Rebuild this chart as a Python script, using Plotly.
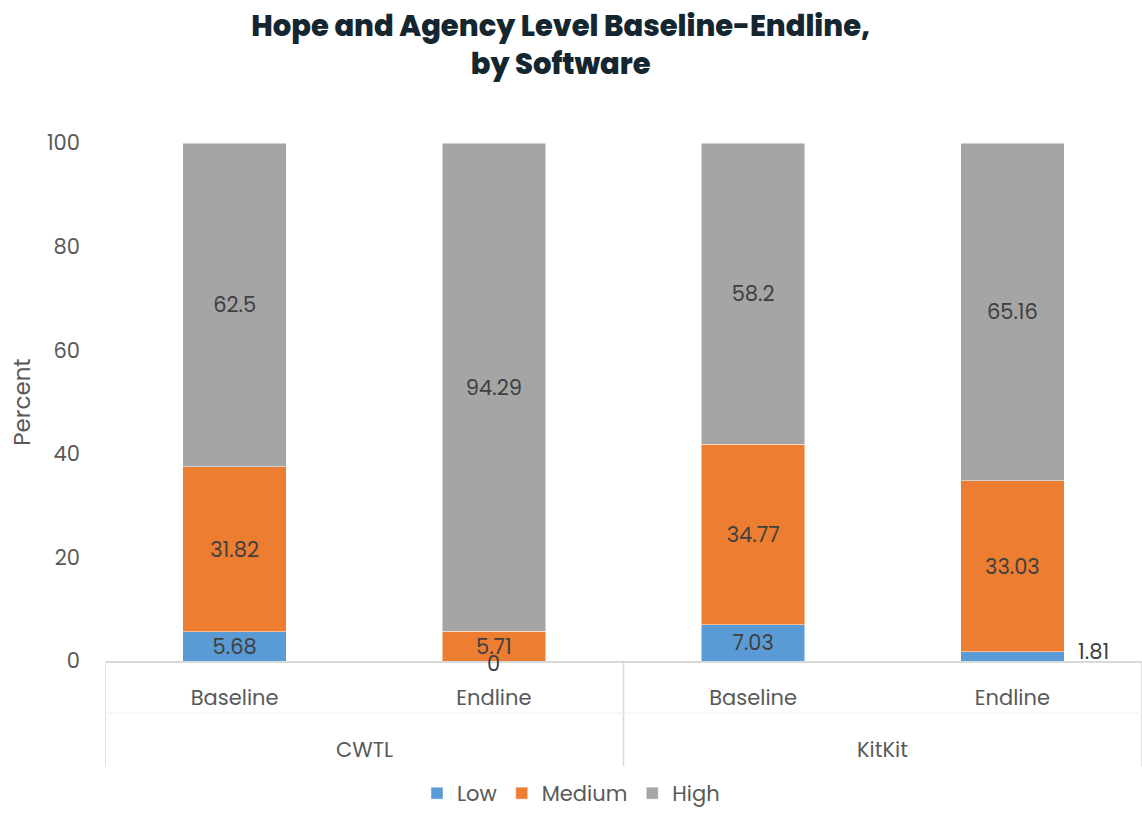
import plotly.graph_objects as go

software = ["CWTL", "CWTL", "KitKit", "KitKit"]
phase = ["Baseline", "Endline", "Baseline", "Endline"]
low = [5.68, 0, 7.03, 1.81]
medium = [31.82, 5.71, 34.77, 33.03]
high = [62.5, 94.29, 58.2, 65.16]
series_names = ["Low", "Medium", "High"]
colors = ["#5B9BD5", "#ED7D31", "#A5A5A5"]

FONT = "Poppins, Lato, 'Open Sans', sans-serif"
pos = list(range(len(phase)))
groups = list(dict.fromkeys(software))

fig = go.Figure()
for name, vals, col in zip(series_names, [low, medium, high], colors):
    txt = [f"{v:g}" if v >= 5 else "" for v in vals]
    fig.add_trace(go.Bar(
        name=name, x=pos, y=vals, text=txt,
        textposition="inside", insidetextanchor="middle", textangle=0,
        constraintext="none",
        textfont=dict(family=FONT, size=21, color="#404040"),
        marker=dict(color=col, line=dict(color="rgba(255,255,255,0.6)", width=0.8)),
        hoverinfo="skip",
    ))

# small Low labels placed outside the bars as in the reference
for i, v in enumerate(low):
    if v < 5:
        if v == 0:
            fig.add_annotation(x=pos[i], y=v, text=f"{v:g}", showarrow=False,
                               xref="x", yref="y", yanchor="middle", yshift=-2,
                               font=dict(family=FONT, size=21, color="#404040"))
        else:
            fig.add_annotation(x=pos[i], y=v, text=f"{v:g}", showarrow=False,
                               xref="x", yref="y", yanchor="middle", xanchor="left",
                               xshift=64,
                               font=dict(family=FONT, size=21, color="#404040"))

# group labels and dividers (multi-level category axis)
for g in groups:
    idx = [p for p, s in zip(pos, software) if s == g]
    fig.add_annotation(x=sum(idx) / len(idx), y=-0.17, xref="x", yref="paper",
                       text=g, showarrow=False, yanchor="middle",
                       font=dict(family=FONT, size=21, color="#595959"))
bounds = [pos[0] - 0.5] + [p + 0.5 for p, a, b in zip(pos, software, software[1:]) if a != b] + [pos[-1] + 0.5]
for b in bounds:
    fig.add_shape(type="line", xref="x", yref="paper", x0=b, x1=b, y0=0, y1=-0.203,
                  line=dict(color="#D9D9D9", width=1.5))
fig.add_shape(type="line", xref="paper", yref="paper", x0=0, x1=1,
              y0=-0.1004, y1=-0.1004, line=dict(color="#EFEFEF", width=1))

fig.update_layout(
    barmode="stack",
    bargap=0.6,
    width=1142, height=814,
    margin=dict(l=105, r=0, t=143, b=153),
    paper_bgcolor="white", plot_bgcolor="white",
    font=dict(family=FONT, size=21, color="#595959"),
    uniformtext=dict(minsize=21, mode="show"),
    title=dict(
        text="Hope and Agency Level Baseline-Endline,<br>by Software",
        x=0.491, xref="container", xanchor="center",
        y=1 - 36 / 814, yref="container", yanchor="middle",
        font=dict(family=FONT, size=29, color="#14262F", weight=800),
    ),
    legend=dict(
        orientation="h", xref="container", x=0.5, xanchor="center",
        yref="container", y=0.0, yanchor="bottom",
        font=dict(family=FONT, size=21, color="#595959"),
        traceorder="normal",
    ),
    showlegend=True,
)
fig.update_yaxes(
    range=[0, 100], dtick=20, showgrid=False, zeroline=False, showline=False,
    tickfont=dict(family=FONT, size=21, color="#595959"),
    title=dict(text="Percent", font=dict(family=FONT, size=23, color="#595959"), standoff=9),
    ticklabelstandoff=24,
)
fig.update_xaxes(
    range=[pos[0] - 0.5, pos[-1] + 0.5],
    tickvals=pos, ticktext=phase,
    showline=True, linecolor="#D9D9D9", linewidth=1.5,
    ticks="", ticklabelstandoff=17,
    tickfont=dict(family=FONT, size=21, color="#595959"),
    showgrid=False, zeroline=False,
)

fig.write_html("out.html", config={"displayModeBar": False})
with open("out.html", encoding="utf-8") as f:
    html = f.read()
html = html.replace("<body>", "<body style=\"margin:0\">", 1)
with open("out.html", "w", encoding="utf-8") as f:
    f.write(html)
